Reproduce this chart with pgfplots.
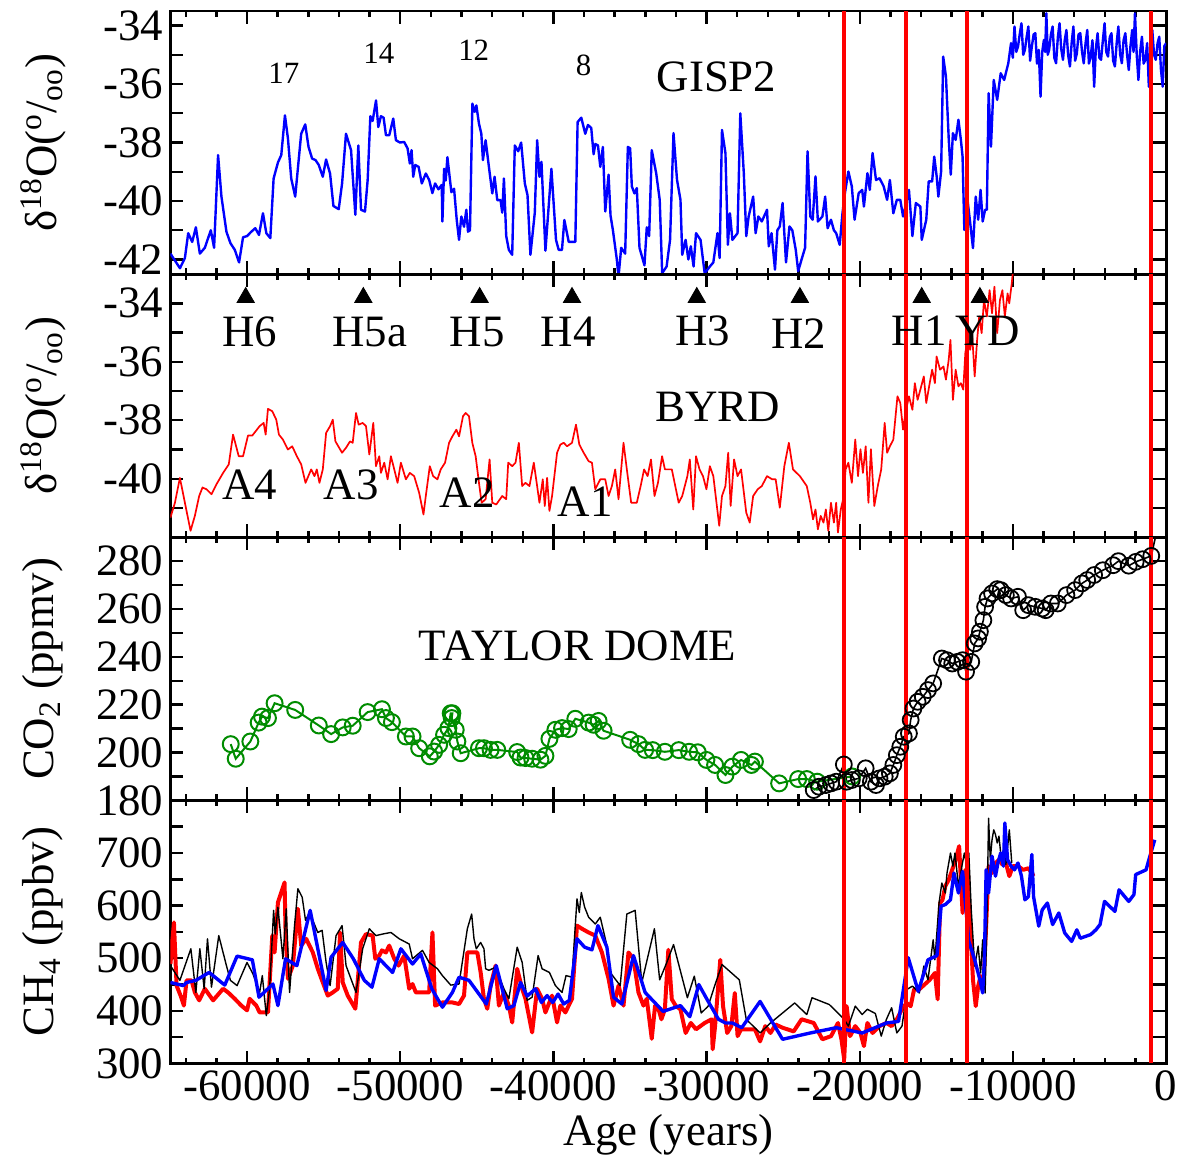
\documentclass[border=0pt]{standalone}
\usepackage{fontspec}
\setmainfont{Liberation Serif}
\usepackage{pgfplots}
\pgfplotsset{compat=1.18}
\newcommand{\mfont}{\fontsize{22.5}{27}\selectfont}
\newcommand{\sfont}{\fontsize{15.5}{18}\selectfont}
\newcommand{\tl}[1]{\textrm{#1}}
\definecolor{dgreen}{RGB}{0,140,0}
\pgfplotsset{
 panel/.style={
  width=499.5pt, height=132pt, scale only axis,
  xmin=-65000, xmax=0,
  xtick={-60000,-50000,-40000,-30000,-20000,-10000,0},
  minor xtick={-64000,-62000,...,-2000},
  scaled x ticks=false, scaled y ticks=false,
  major tick length=6.5pt, minor tick length=3pt,
  tick align=inside, tick pos=both, ticklabel pos=left,
  axis line style={line width=1.4pt},
  tick style={line width=1.2pt, black},
  tick label style={font=\mfont},
  label style={font=\mfont},
  ylabel style={at={(axis description cs:-0.128,0.5)}, anchor=center},
  xticklabels={},
  clip=true,
 },
 redl/.style={red, line width=2pt, forget plot},
}
\newcommand{\redlines}[2]{%
 \addplot[redl] coordinates {(-21000,#1) (-21000,#2)};
 \addplot[redl] coordinates {(-17000,#1) (-17000,#2)};
 \addplot[redl] coordinates {(-13000,#1) (-13000,#2)};
 \addplot[redl] coordinates {(-1000,#1) (-1000,#2)};
}
\begin{document}
\begin{tikzpicture}
\path (-85.5pt,-52.5pt) rectangle (506.5pt,533.5pt);
% ---------------- GISP2
\begin{axis}[panel, at={(0,396pt)}, anchor=south west,
 ymin=-42.5, ymax=-33.5, ytick={-42,-41,...,-34}, yticklabels={\tl{-42},,\tl{-40},,\tl{-38},,\tl{-36},,\tl{-34}},
 ylabel={δ\textsuperscript{18}O(\textsuperscript{o}/\textsubscript{oo})}]
\addplot[blue, line width=1.2pt, line join=round] coordinates {
(-65000,-41.8) (-64380,-42.3) (-64056,-41.95) (-63840,-41.1) (-63580,-41.4) (-63340,-40.9) (-63080,-41.8) (-62755,-41.6) (-62365,-41.0) (-62150,-41.6)
(-61890,-38.43) (-61670,-39.85) (-61345,-41.05) (-61085,-41.44) (-60800,-41.67) (-60520,-42.1) (-60260,-41.24) (-60000,-41.2) (-59720,-41.05) (-59460,-40.93)
(-59220,-41.16) (-58960,-40.42) (-58740,-41.1) (-58480,-41.27) (-58265,-39.23) (-57980,-38.68) (-57765,-38.43) (-57525,-37.07) (-57330,-37.86) (-57115,-39.23)
(-56855,-39.85) (-56465,-37.7) (-56200,-37.38) (-55985,-38.15) (-55750,-38.55) (-55530,-38.6) (-55315,-38.77) (-55055,-39.17) (-54840,-38.58) (-54580,-39.06)
(-54360,-40.17) (-54015,-40.28) (-53795,-39.4) (-53540,-37.7) (-53210,-38.26) (-52930,-40.47) (-52735,-38.1) (-52560,-40.3) (-52300,-40.36) (-52125,-39.28)
(-51950,-37.1) (-51800,-37.26) (-51580,-36.56) (-51430,-37.47) (-51260,-37.1) (-51085,-37.15) (-50930,-37.75) (-50715,-37.75) (-50455,-37.18) (-50280,-37.92)
(-50020,-38.0) (-49740,-37.98) (-49520,-38.2) (-49370,-38.72) (-49260,-38.26) (-49150,-39.17) (-49020,-38.77) (-48800,-38.83) (-48590,-39.4) (-48330,-39.06)
(-48110,-39.28) (-47900,-39.73) (-47720,-39.4) (-47505,-39.6) (-47290,-39.45) (-47245,-40.7) (-47135,-38.9) (-47030,-39.3) (-46920,-38.5) (-46660,-39.7)
(-46485,-39.58) (-46310,-40.65) (-46160,-41.33) (-46010,-40.53) (-45835,-40.88) (-45685,-40.3) (-45575,-41.05) (-45445,-41.0) (-45290,-36.67) (-45140,-36.95)
(-45030,-36.73) (-44860,-37.35) (-44705,-37.7) (-44600,-38.6) (-44425,-37.92) (-44210,-38.83) (-43990,-39.74) (-43840,-39.17) (-43665,-39.97) (-43450,-39.97)
(-43340,-40.4) (-43230,-39.23) (-43080,-41.2) (-42910,-41.67) (-42690,-41.84) (-42520,-38.1) (-42300,-38.3) (-42105,-38.0) (-41865,-39.4) (-41690,-39.8)
(-41500,-41.84) (-41215,-40.4) (-41060,-37.92) (-40910,-39.17) (-40780,-38.66) (-40520,-41.7) (-40130,-38.9) (-39830,-41.33) (-39655,-41.67) (-39440,-41.67)
(-39285,-40.65) (-39000,-41.4) (-38570,-41.4) (-38420,-37.3) (-38180,-37.15) (-37920,-37.7) (-37745,-37.4) (-37530,-37.5) (-37375,-38.4) (-37265,-38.05)
(-37090,-38.1) (-36940,-38.83) (-36770,-38.15) (-36615,-40.36) (-36400,-39.1) (-36270,-40.5) (-36115,-41.0) (-35860,-42.0) (-35750,-42.6) (-35575,-41.6)
(-35315,-41.8) (-35140,-38.15) (-34990,-38.2) (-34880,-39.5) (-34710,-39.74) (-34555,-39.56) (-34380,-41.6) (-34056,-42.2) (-33905,-40.9) (-33750,-41.2)
(-33580,-38.26) (-33290,-39.05) (-33060,-39.96) (-32900,-42.47) (-32610,-42.24) (-32385,-41.33) (-32160,-37.68) (-31930,-39.28) (-31705,-39.96) (-31590,-41.84)
(-31370,-41.33) (-31190,-42.0) (-31030,-41.55) (-30850,-42.24) (-30690,-41.1) (-30395,-41.33) (-30125,-42.47) (-29785,-42.24) (-29560,-42.1) (-29290,-41.1)
(-29150,-41.95) (-28995,-37.57) (-28770,-38.36) (-28610,-41.5) (-28475,-40.42) (-28315,-41.33) (-27980,-41.1) (-27800,-37.0) (-27570,-39.05) (-27410,-41.2)
(-27255,-40.53) (-26960,-39.85) (-26800,-41.1) (-26620,-40.53) (-26395,-40.7) (-26055,-40.3) (-25940,-41.55) (-25760,-41.1) (-25535,-42.35) (-25380,-41.0)
(-25220,-40.87) (-25040,-40.07) (-24815,-42.1) (-24590,-40.87) (-24405,-41.0) (-24180,-41.67) (-24020,-42.4) (-23800,-42.0) (-23570,-41.6) (-23410,-38.3)
(-23230,-40.53) (-23075,-40.64) (-22890,-39.16) (-22735,-40.7) (-22440,-40.53) (-22260,-39.85) (-22100,-40.93) (-21880,-40.64) (-21690,-41.0) (-21540,-41.1)
(-21310,-41.5) (-21130,-40.42) (-20970,-39.73) (-20745,-38.99) (-20520,-39.5) (-20340,-40.64) (-20070,-39.73) (-19840,-39.62) (-19730,-40.19) (-19500,-39.05)
(-19345,-39.62) (-19165,-38.36) (-18940,-39.28) (-18710,-39.22) (-18440,-39.5) (-18215,-39.96) (-18035,-39.28) (-17810,-40.42) (-17580,-39.96) (-17355,-39.96)
(-17175,-40.53) (-17015,-40.19) (-16790,-39.62) (-16565,-41.2) (-16340,-40.07) (-16045,-40.19) (-15955,-41.33) (-15660,-40.64) (-15500,-39.33) (-15275,-39.33)
(-15140,-38.48) (-14980,-39.16) (-14870,-39.85) (-14690,-38.99) (-14555,-35.06) (-14375,-35.74) (-14190,-37.91) (-14060,-39.1) (-13920,-37.68) (-13740,-37.91)
(-13560,-37.22) (-13400,-37.91) (-13290,-38.48) (-13175,-40.99) (-13020,-39.73) (-12840,-40.53) (-12610,-41.61) (-12430,-39.85) (-12270,-40.64) (-12115,-39.62)
(-11975,-40.7) (-11820,-40.3) (-11705,-40.3) (-11590,-36.31) (-11435,-38.14) (-11255,-35.86) (-11030,-36.54) (-10800,-35.63) (-10575,-35.86) (-10305,-35.29)
(-10125,-34.6) (-10010,-35.1) (-9900,-34.03) (-9785,-34.9) (-9670,-34.72) (-9560,-34.3) (-9445,-33.92) (-9330,-35.0) (-9220,-34.83) (-9110,-34.4)
(-8995,-34.03) (-8880,-35.2) (-8770,-34.72) (-8650,-34.3) (-8540,-34.26) (-8430,-35.3) (-8315,-34.83) (-8200,-36.43) (-8090,-34.9) (-7980,-34.49)
(-7900,-34.9) (-7820,-33.58) (-7730,-35.0) (-7640,-34.83) (-7520,-34.3) (-7410,-34.03) (-7300,-35.1) (-7185,-35.29) (-7070,-34.4) (-6960,-33.92)
(-6850,-34.8) (-6735,-35.17) (-6620,-34.5) (-6510,-34.15) (-6400,-35.0) (-6280,-35.4) (-6170,-34.6) (-6055,-34.03) (-5940,-35.2) (-5830,-34.95)
(-5720,-34.3) (-5605,-34.26) (-5490,-34.9) (-5380,-35.29) (-5260,-34.6) (-5150,-34.15) (-5040,-35.3) (-4925,-35.06) (-4810,-34.5) (-4700,-36.09)
(-4590,-34.8) (-4475,-34.26) (-4360,-35.1) (-4250,-35.17) (-4130,-34.5) (-4020,-33.92) (-3910,-34.9) (-3795,-35.06) (-3680,-34.4) (-3570,-34.26)
(-3460,-35.2) (-3345,-35.4) (-3230,-34.6) (-3120,-34.03) (-3000,-35.0) (-2890,-35.29) (-2780,-34.5) (-2665,-34.26) (-2550,-35.0) (-2440,-35.52)
(-2330,-34.7) (-2215,-34.15) (-2130,-34.9) (-2035,-33.58) (-1920,-35.0) (-1810,-35.86) (-1700,-34.9) (-1580,-34.38) (-1470,-35.3) (-1355,-35.17)
(-1240,-34.6) (-1130,-36.09) (-1020,-34.8) (-905,-34.15) (-790,-35.0) (-680,-35.17) (-560,-34.6) (-450,-34.38) (-340,-35.5) (-225,-36.09)
(-120,-34.7) (0,-34.6)
};
\redlines{-42.5}{-33.5}
\node[font=\sfont] at (axis cs:-57600,-35.64) {17};
\node[font=\sfont] at (axis cs:-51400,-34.96) {14};
\node[font=\sfont] at (axis cs:-45200,-34.85) {12};
\node[font=\sfont] at (axis cs:-38030,-35.37) {8};
\node[font=\mfont] at (axis cs:-29350,-35.77) {GISP2};
\end{axis}
% ---------------- BYRD
\begin{axis}[panel, at={(0,264pt)}, anchor=south west,
 ymin=-42, ymax=-33, ytick={-41,-40,...,-34}, yticklabels={,\tl{-40},,\tl{-38},,\tl{-36},,\tl{-34}},
 ylabel={δ\textsuperscript{18}O(\textsuperscript{o}/\textsubscript{oo})}]
\addplot[red, line width=0.85pt, line join=round] coordinates {
(-65000,-41.33) (-64707,-40.82) (-64382,-39.97) (-64056,-40.82) (-63688,-41.78) (-63406,-41.27) (-63124,-40.59) (-62907,-40.3) (-62646,-40.36) (-62321,-40.53)
(-61996,-40.19) (-61562,-39.8) (-61193,-39.51) (-60911,-38.49) (-60542,-39.23) (-60260,-39.23) (-59935,-38.52) (-59653,-38.52) (-59176,-38.2) (-58915,-38.09)
(-58785,-38.49) (-58633,-37.61) (-58351,-37.69) (-58091,-37.98) (-57917,-38.49) (-57657,-38.66) (-57332,-39.0) (-57050,-38.89) (-56746,-39.23) (-56464,-39.51)
(-56182,-40.14) (-55813,-39.68) (-55597,-39.91) (-55445,-39.68) (-55271,-40.14) (-55054,-39.68) (-54837,-38.43) (-54577,-38.2) (-54403,-37.98) (-54230,-38.72)
(-53796,-39.11) (-53536,-38.94) (-53275,-38.72) (-53102,-38.77) (-52885,-37.75) (-52711,-38.15) (-52451,-38.09) (-52234,-38.2) (-52017,-39.17) (-51757,-38.09)
(-51584,-39.57) (-51367,-39.23) (-51258,-39.8) (-51041,-39.45) (-50824,-40.02) (-50607,-39.23) (-50390,-39.68) (-50173,-40.14) (-49957,-39.45) (-49631,-40.02)
(-49371,-39.8) (-49089,-39.91) (-48764,-40.48) (-48482,-41.22) (-48330,-40.59) (-48069,-39.57) (-47852,-39.91) (-47570,-40.02) (-47354,-39.68) (-47072,-39.45)
(-46811,-38.77) (-46594,-38.55) (-46334,-38.32) (-46161,-38.55) (-45900,-37.86) (-45727,-37.75) (-45510,-37.86) (-45293,-38.77) (-45076,-39.23) (-44859,-40.14)
(-44685,-40.82) (-44425,-40.7) (-44165,-39.34) (-43991,-40.82) (-43731,-40.88) (-43341,-40.59) (-43080,-40.7) (-42950,-39.45) (-42690,-39.57) (-42473,-39.45)
(-42256,-38.77) (-42039,-40.25) (-41822,-40.14) (-41562,-40.25) (-41280,-39.45) (-41063,-40.25) (-40911,-40.82) (-40694,-40.02) (-40564,-40.93) (-40412,-39.97)
(-40260,-41.1) (-40087,-40.59) (-39761,-39.11) (-39544,-38.83) (-39328,-38.77) (-39111,-38.89) (-38785,-38.77) (-38525,-38.15) (-38308,-38.83) (-38026,-39.11)
(-37701,-39.4) (-37484,-39.45) (-37267,-40.36) (-36941,-40.02) (-36616,-40.02) (-36399,-40.59) (-36182,-40.25) (-35965,-39.68) (-35748,-40.7) (-35423,-38.77)
(-35206,-39.68) (-34924,-40.82) (-34555,-40.82) (-34305,-40.25) (-34080,-39.68) (-33850,-39.91) (-33630,-39.34) (-33400,-40.59) (-33175,-40.14) (-32905,-39.23)
(-32720,-39.68) (-32500,-39.68) (-32270,-39.68) (-32045,-40.25) (-31820,-40.82) (-31590,-40.59) (-31255,-39.91) (-31095,-39.34) (-30870,-41.05) (-30690,-39.23)
(-30460,-39.68) (-30235,-39.91) (-30010,-40.36) (-29785,-39.57) (-29560,-39.91) (-29175,-41.61) (-28995,-40.59) (-28770,-40.25) (-28590,-39.11) (-28430,-40.93)
(-28205,-39.34) (-27980,-39.91) (-27750,-39.68) (-27410,-41.16) (-27185,-41.5) (-26960,-40.59) (-26665,-40.36) (-26395,-40.25) (-26055,-39.91) (-25715,-40.02)
(-25490,-40.02) (-25220,-40.99) (-24925,-39.57) (-24630,-38.77) (-24360,-39.68) (-23910,-39.91) (-23460,-40.25) (-23230,-40.82) (-23050,-41.39) (-22890,-41.05)
(-22735,-41.73) (-22550,-41.27) (-22370,-41.5) (-22215,-41.05) (-22055,-41.78) (-21880,-40.82) (-21690,-41.5) (-21540,-40.82) (-21425,-41.84) (-21240,-41.05)
(-21085,-40.7) (-20925,-39.68) (-20745,-39.45) (-20520,-40.14) (-20295,-38.66) (-20115,-39.91) (-19955,-38.99) (-19795,-39.8) (-19615,-38.89) (-19435,-40.82)
(-19275,-38.99) (-19050,-40.93) (-18825,-40.25) (-18600,-39.68) (-18375,-38.09) (-18215,-39.11) (-18035,-38.89) (-17810,-38.66) (-17540,-37.18) (-17355,-37.41)
(-17175,-38.32) (-17015,-37.75) (-16790,-37.18) (-16565,-37.64) (-16405,-36.73) (-16225,-37.3) (-16045,-36.95) (-15820,-36.5) (-15660,-37.41) (-15435,-36.73)
(-15275,-36.27) (-15095,-36.73) (-14985,-35.82) (-14760,-36.27) (-14535,-36.16) (-14375,-36.61) (-14195,-35.93) (-14080,-35.25) (-13920,-37.3) (-13740,-36.27)
(-13560,-36.84) (-13400,-36.73) (-13245,-36.95) (-13110,-35.7) (-12950,-35.14) (-12795,-35.59) (-12655,-35.14) (-12500,-36.5) (-12340,-35.25) (-12205,-34.45)
(-12045,-35.02) (-11890,-33.89) (-11705,-34.45) (-11525,-33.55) (-11365,-34.34) (-11210,-33.43) (-11030,-35.02) (-10850,-33.89) (-10690,-33.55) (-10530,-34.45)
(-10350,-33.66) (-10240,-34.0) (-10080,-33.32) (-10000,-32.9)
};
\addplot[only marks, mark=triangle*, mark size=5pt, black] coordinates {
(-60087,-33.8) (-52408,-33.8) (-44816,-33.8) (-38785,-33.8) (-30640,-33.8) (-23910,-33.8) (-15955,-33.8) (-12160,-33.8)
};
\redlines{-42}{-33}
\node[font=\mfont] at (axis cs:-59826,-34.97) {H6};
\node[font=\mfont] at (axis cs:-51975,-34.97) {H5a};
\node[font=\mfont] at (axis cs:-44967,-34.97) {H5};
\node[font=\mfont] at (axis cs:-39045,-34.97) {H4};
\node[font=\mfont] at (axis cs:-30237,-34.93) {H3};
\node[font=\mfont] at (axis cs:-23977,-35.05) {H2};
\node[font=\mfont] at (axis cs:-16113,-34.93) {H1};
\node[font=\mfont] at (axis cs:-11661,-34.93) {YD};
\node[font=\mfont] at (axis cs:-29290,-37.53) {BYRD};
\node[font=\mfont] at (axis cs:-59826,-40.21) {A4};
\node[font=\mfont] at (axis cs:-53210,-40.21) {A3};
\node[font=\mfont] at (axis cs:-45618,-40.46) {A2};
\node[font=\mfont] at (axis cs:-37918,-40.8) {A1};
\end{axis}
% ---------------- CO2
\begin{axis}[panel, at={(0,132pt)}, anchor=south west,
 ymin=180, ymax=290, ytick={180,190,...,280}, yticklabels={\tl{180},,\tl{200},,\tl{220},,\tl{240},,\tl{260},,\tl{280}},
 ylabel={CO\textsubscript{2} (ppmv)}]
\addplot[dgreen, line width=1pt, mark=o, mark size=4pt, mark options={line width=1pt}] coordinates {
(-61063,203.5) (-60738,197.4) (-59783,204.6) (-59241,212.5) (-59024,215.0) (-58633,214.4) (-58200,220.6) (-56855,217.8) (-55315,211.3) (-54512,207.7)
(-53753,210.5) (-53102,211.2) (-52126,216.9) (-51193,218.1) (-50933,214.4) (-50542,212.7) (-49631,206.7) (-49197,206.7) (-48764,201.8) (-48069,198.4)
(-47787,200.4) (-47462,203.2) (-47137,207.4) (-46855,210.2) (-46703,216.4) (-46594,216.4) (-46638,214.4) (-46377,209.5) (-46269,204.6) (-46052,199.7)
(-44859,201.8) (-44534,201.8) (-44100,201.1) (-43666,201.1) (-42364,200.2) (-42147,197.9) (-41822,197.7) (-41388,197.4) (-40846,197.0) (-40521,198.6)
(-40260,205.7) (-39870,209.5) (-39436,210.2) (-39002,209.8) (-38568,214.1) (-37701,212.5) (-37375,211.6) (-37050,213.2) (-36725,209.1) (-34989,205.3)
(-34447,203.5) (-34013,201.1) (-33514,201.0) (-32723,200.3) (-31819,201.0) (-31141,200.3) (-30576,200.1) (-30010,196.9) (-29445,194.8) (-28768,190.6)
(-28316,194.1) (-27751,196.9) (-27073,194.8) (-26847,196.2) (-25265,187.1) (-24023,188.9) (-23458,188.9) (-22780,187.8) (-20500,190.0)
};
\addplot[black, line width=0.8pt, mark=o, mark size=4pt, mark options={line width=0.9pt}] coordinates {
(-23006,184.3) (-22667,185.7) (-22215,186.4) (-21876,187.1) (-21537,187.8) (-21040,195.0) (-20859,187.8) (-20520,188.5) (-20068,189.2) (-19616,193.4)
(-19277,187.8) (-18938,186.4) (-18712,189.2) (-18373,189.9) (-18034,191.3) (-17808,194.8) (-17582,198.9) (-17356,202.4) (-17130,206.6) (-16791,208.0)
(-16678,213.6) (-16497,218.4) (-16226,221.2) (-15887,223.3) (-15548,226.1) (-15209,228.9) (-14644,239.3) (-14305,238.6) (-13966,237.2) (-13627,237.9)
(-13288,238.6) (-13062,233.8) (-12723,237.9) (-12497,245.6) (-12271,247.7) (-12158,250.5) (-11932,255.3) (-11819,260.9) (-11661,264.4) (-11367,266.5)
(-11028,268.3) (-10802,267.9) (-10463,265.8) (-10124,264.4) (-9672,265.1) (-9333,259.5) (-8994,261.6) (-8542,260.9) (-8090,260.2) (-7864,259.5)
(-7525,262.3) (-7073,262.3) (-6508,265.8) (-5943,267.9) (-5492,270.7) (-5153,272.1) (-4701,274.2) (-4136,276.2) (-3458,278.3) (-3119,280.0)
(-2441,278.1) (-1989,279.7) (-1537,280.8) (-972,282.2)
};
\addplot[black, line width=0.8pt] coordinates {(-972,282.2) (0,310)};
\redlines{180}{290}
\node[font=\mfont] at (axis cs:-38420,244.4) {TAYLOR DOME};
\end{axis}
% ---------------- CH4
\begin{axis}[panel, at={(0,0)}, anchor=south west,
 ymin=300, ymax=800, ytick={300,350,...,750}, yticklabels={\tl{300},,\tl{400},,\tl{500},,\tl{600},,\tl{700},},
 xticklabels={\tl{-60000},\tl{-50000},\tl{-40000},\tl{-30000},\tl{-20000},\tl{-10000},\tl{0}},
 xlabel={Age (years)},
 ylabel={CH\textsubscript{4} (ppbv)}]
\addplot[red, line width=2pt, line join=round] coordinates {
(-65000,489) (-64772,568) (-64599,448) (-64338,429) (-64121,410) (-63948,458) (-63623,458) (-63406,435) (-63124,420) (-62755,442)
(-62213,420) (-61562,442) (-61236,435) (-60803,423) (-60369,410) (-60000,401) (-59826,423) (-59393,410) (-59176,397) (-58633,397)
(-58351,543) (-58200,511) (-57983,606) (-57549,644) (-57484,549) (-57332,461) (-57007,486) (-56681,594) (-56464,524) (-56139,537)
(-55705,511) (-55380,480) (-55054,454) (-54729,429) (-54403,435) (-54078,442) (-53926,549) (-53753,454) (-53427,429) (-52928,404)
(-52560,530) (-52234,546) (-51800,543) (-51627,499) (-51367,505) (-51193,515) (-50933,511) (-50716,524) (-50390,499) (-50108,486)
(-49740,505) (-49414,442) (-49197,451) (-48980,435) (-48547,435) (-48113,435) (-47896,549) (-47722,410) (-47245,416) (-46594,416)
(-46161,413) (-45835,429) (-45618,511) (-45293,511) (-44967,511) (-44750,473) (-44534,423) (-44317,404) (-44100,448) (-43774,486)
(-43557,410) (-43232,435) (-42907,410) (-42690,378) (-42364,480) (-42039,442) (-41822,423) (-41388,359) (-41063,442) (-40738,423)
(-40521,397) (-40087,429) (-39761,378) (-39544,410) (-39219,397) (-38785,423) (-38460,562) (-38134,556) (-37701,549) (-37267,543)
(-36833,511) (-36399,461) (-36074,410) (-35748,448) (-35423,410) (-35098,511) (-34772,499) (-34447,435) (-34121,410) (-33905,423)
(-33579,347) (-33362,410) (-33145,404) (-32949,384) (-32723,403) (-32497,516) (-32271,422) (-31999,409) (-31706,403) (-31367,358)
(-31028,377) (-30689,365) (-30124,377) (-29672,384) (-29604,327) (-29446,371) (-29107,497) (-28926,409) (-28655,358) (-28384,371)
(-28158,434) (-27977,352) (-27751,365) (-27299,365) (-26847,365) (-26508,342) (-26169,371) (-25830,358) (-25491,374) (-25040,368)
(-24316,361) (-23797,384) (-23006,377) (-22441,346) (-21876,352) (-21424,377) (-21198,346) (-21017,308) (-20859,409) (-20633,352)
(-20294,371) (-19955,358) (-19729,333) (-19503,377) (-19164,358) (-18712,371) (-18260,377) (-17921,371) (-17582,384) (-17243,403)
(-16949,415) (-16678,409) (-16452,441) (-16113,441) (-15774,450) (-15435,459) (-15096,472) (-14915,422) (-14757,605) (-14599,611)
(-14418,637) (-14192,649) (-13966,668) (-13740,687) (-13514,713) (-13401,649) (-13288,586) (-13107,668) (-12949,668) (-12791,561)
(-12610,459) (-12430,409) (-12271,447) (-12113,466) (-11932,447) (-11751,561) (-11593,675) (-11367,662) (-11141,681) (-10915,687)
(-10689,678) (-10463,681) (-10237,656) (-10011,675) (-9672,675) (-9333,668) (-8994,671) (-8768,662) (-8655,656)
};
\addplot[black, line width=0.7pt, line join=round] coordinates {
(-65000,486) (-64382,458) (-63666,518) (-63341,435) (-63080,518) (-62798,442) (-62581,537) (-62321,445) (-61844,543) (-61345,486)
(-61085,458) (-60651,448) (-60000,492) (-59610,470) (-59176,435) (-59002,467) (-58742,391) (-58525,442) (-58265,591) (-58156,546)
(-57983,597) (-57657,499) (-57440,594) (-57223,435) (-56898,562) (-56681,632) (-56399,616) (-56182,572) (-55922,587) (-55380,549)
(-55098,553) (-54837,492) (-54577,448) (-54187,543) (-53796,562) (-53536,486) (-52885,435) (-52451,518) (-52017,556) (-51584,543)
(-51150,546) (-50607,549) (-50065,537) (-49414,527) (-49197,499) (-48547,515) (-48113,492) (-47570,480) (-47245,467) (-46703,449)
(-46161,451) (-45618,556) (-45336,584) (-45184,537) (-45033,518) (-44751,530) (-44534,518) (-44425,480) (-44208,477) (-43774,483)
(-43232,442) (-42907,423) (-42364,521) (-42039,492) (-41714,420) (-41388,426) (-40998,505) (-40738,480) (-40260,473) (-39870,448)
(-39436,435) (-39176,467) (-38785,464) (-38460,613) (-38308,587) (-38178,625) (-37961,597) (-37701,578) (-37267,565) (-36941,578)
(-36508,524) (-36291,473) (-35640,448) (-35206,584) (-34664,591) (-34230,454) (-33406,556) (-33062,459) (-32610,491) (-32158,526)
(-31254,425) (-30802,466) (-30350,396) (-29898,409) (-29446,450) (-28994,488) (-27864,459) (-27412,384) (-26508,358) (-25830,377)
(-24249,415) (-23458,393) (-23119,425) (-21989,412) (-21017,384) (-20745,371) (-20294,409) (-19842,393) (-19503,403) (-18983,395)
(-18599,352) (-18260,384) (-17921,406) (-17582,358) (-17243,371) (-16904,441) (-16565,447) (-16113,434) (-15819,485) (-15548,459)
(-15209,535) (-15096,497) (-14825,605) (-14644,643) (-14418,624) (-14305,662) (-14079,700) (-13921,675) (-13785,700) (-13559,637)
(-13333,675) (-13175,700) (-13017,675) (-12881,700) (-12723,592) (-12497,485) (-12271,523) (-12113,472) (-11977,535) (-11819,434)
(-11706,561) (-11593,766) (-11480,687) (-11367,725) (-11254,744) (-11141,735) (-11028,719) (-10915,732) (-10757,687) (-10621,706)
(-10463,678) (-10237,744) (-10079,681)
};
\addplot[blue, line width=1.7pt, line join=round] coordinates {
(-65000,454) (-64165,448) (-63948,454) (-63341,458) (-62473,473) (-61453,449) (-60651,504) (-59653,497) (-59219,426) (-58308,451)
(-57983,410) (-57484,499) (-56746,486) (-55879,591) (-54837,439) (-54512,502) (-53753,530) (-53059,499) (-52343,458) (-51844,445)
(-51367,499) (-50499,473) (-49957,518) (-49197,489) (-48655,508) (-47939,442) (-47245,407) (-46594,435) (-46161,464) (-45510,458)
(-44382,413) (-43731,486) (-43015,404) (-42581,410) (-42147,454) (-41714,428) (-41171,442) (-40781,416) (-40412,429) (-40043,416)
(-39696,432) (-39328,413) (-38959,420) (-38460,537) (-37961,521) (-37484,516) (-37093,562) (-36508,521) (-36074,426) (-35531,413)
(-34772,505) (-34013,435) (-32836,399) (-31706,410) (-31096,389) (-30508,450) (-29898,418) (-29220,384) (-28768,377) (-28316,377)
(-27706,368) (-26508,418) (-25040,346) (-23232,358) (-21537,368) (-19842,358) (-18260,377) (-17469,380) (-16836,501) (-16181,437)
(-15548,497) (-14960,505) (-14690,599) (-14418,602) (-14079,611) (-13853,662) (-13559,624) (-13288,665) (-12881,532) (-12497,497)
(-12158,459) (-11977,434) (-11864,497) (-11751,668) (-11593,624) (-11367,694) (-11141,656) (-10983,681) (-10802,700) (-10621,675)
(-10531,757) (-10350,687) (-10124,675) (-9898,668) (-9672,681) (-9446,656) (-9220,611) (-8994,617) (-8768,697) (-8655,617)
(-8316,561) (-8090,592) (-7751,605) (-7412,564) (-7006,586) (-6621,548) (-6169,532) (-5830,554) (-5605,538) (-4927,545)
(-4588,554) (-4316,564) (-4023,608) (-3345,589) (-3074,630) (-2441,608) (-2102,621) (-1989,659) (-1311,668) (-1130,687)
(-746,725)
};
\redlines{300}{800}
\end{axis}
\end{tikzpicture}
\end{document}
